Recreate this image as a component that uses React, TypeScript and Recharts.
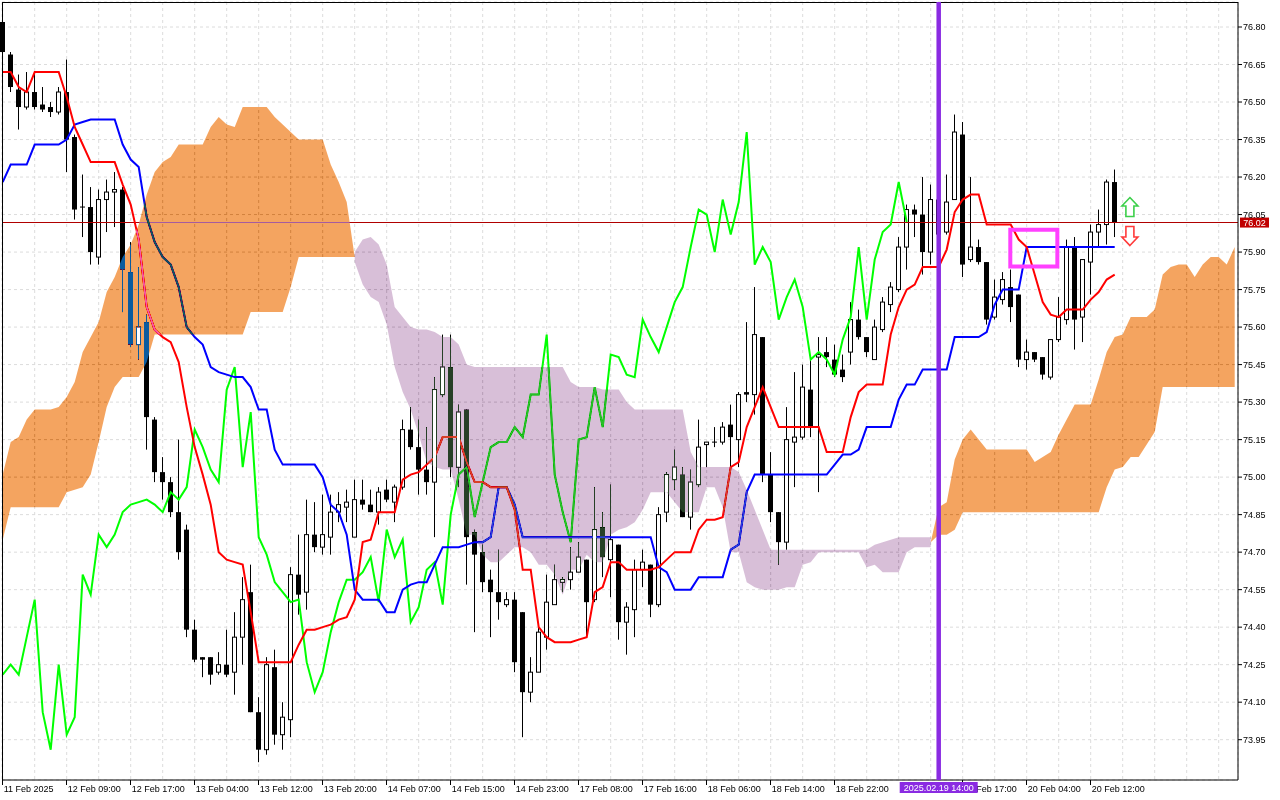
import React from 'react';
import {
  ComposedChart,
  Bar,
  Line,
  Area,
  XAxis,
  YAxis,
  CartesianGrid,
  ReferenceLine,
  ReferenceArea,
  ReferenceDot,
} from 'recharts';

// ---------- data (hourly bars, index 0..139) ----------
const barOpen = [
  76.82, 76.69, 76.55, 76.48, 76.54, 76.49, 76.48, 76.46, 76.54, 76.36,
  76.08, 76.08, 75.88, 76.11, 76.14, 76.15, 75.82, 75.53, 75.62, 75.23,
  75.02, 74.98, 74.86, 74.79, 74.39, 74.28, 74.28, 74.22, 74.25, 74.22,
  74.36, 74.54, 74.06, 73.91, 74.24, 73.97, 74.03, 74.61, 74.54, 74.77,
  74.72, 74.76, 74.86, 74.88, 74.76, 74.91, 74.89, 74.86, 74.95, 74.90,
  74.96, 75.19, 75.12, 75.03, 74.98, 75.33, 75.44, 75.04, 75.27, 74.78,
  74.70, 74.59, 74.54, 74.49, 74.51, 74.46, 74.14, 74.22, 74.36, 74.49,
  74.58, 74.59, 74.62, 74.67, 74.51, 74.80, 74.67, 74.73, 74.42, 74.47,
  74.63, 74.65, 74.49, 74.86, 74.99, 75.01, 74.84, 74.97, 75.13, 75.14,
  75.14, 75.21, 75.15, 75.34, 75.33, 75.56, 75.01, 74.86, 74.74, 75.14,
  75.16, 75.35, 75.48, 75.50, 75.47, 75.43, 75.50, 75.63, 75.56, 75.47,
  75.59, 75.69, 75.75, 75.92, 76.07, 76.05, 75.90, 76.11, 75.98, 76.11,
  76.37, 75.87, 75.92, 75.86, 75.64, 75.71, 75.76, 75.73, 75.47, 75.50,
  75.48, 75.40, 75.55, 75.63, 75.92, 75.64, 75.86, 75.98, 76.01, 76.18,
];
const barHigh = [
  76.83, 76.70, 76.61, 76.62, 76.62, 76.56, 76.50, 76.56, 76.67, 76.37,
  76.21, 76.16, 76.15, 76.19, 76.22, 76.16, 75.94, 75.84, 75.65, 75.24,
  75.08, 75.00, 75.15, 74.81, 74.43, 74.28, 74.28, 74.30, 74.39, 74.46,
  74.60, 74.65, 74.12, 74.28, 74.31, 74.10, 74.64, 74.77, 74.91, 74.90,
  74.93, 74.93, 74.94, 74.95, 74.99, 74.99, 74.95, 74.96, 74.99, 74.97,
  75.23, 75.28, 75.23, 75.20, 75.40, 75.57, 75.57, 75.29, 75.27, 74.79,
  74.73, 74.63, 74.71, 74.54, 74.54, 74.46, 74.28, 74.40, 74.61, 74.65,
  74.60, 74.72, 74.74, 74.67, 74.96, 74.86, 74.97, 74.73, 74.50, 74.67,
  74.71, 74.65, 74.88, 75.02, 75.11, 75.04, 75.03, 75.23, 75.14, 75.20,
  75.22, 75.29, 75.34, 75.62, 75.76, 75.56, 75.10, 74.86, 75.28, 75.42,
  75.45, 75.47, 75.56, 75.56, 75.53, 75.49, 75.70, 75.67, 75.56, 75.63,
  75.72, 75.78, 75.96, 76.09, 76.09, 76.20, 76.17, 76.18, 76.21, 76.45,
  76.42, 76.20, 75.95, 75.86, 75.79, 75.82, 75.83, 75.73, 75.55, 75.50,
  75.48, 75.55, 75.72, 75.95, 75.96, 75.87, 76.01, 76.07, 76.19, 76.23,
];
const barLow = [
  76.69, 76.54, 76.39, 76.47, 76.47, 76.46, 76.44, 76.45, 76.22, 76.03,
  75.96, 75.85, 75.85, 75.98, 76.00, 75.66, 75.52, 75.47, 75.11, 74.98,
  74.91, 74.84, 74.67, 74.36, 74.26, 74.20, 74.17, 74.21, 74.20, 74.13,
  74.25, 74.06, 73.86, 73.89, 73.93, 73.91, 73.96, 74.45, 74.47, 74.70,
  74.69, 74.69, 74.82, 74.82, 74.76, 74.87, 74.86, 74.81, 74.90, 74.82,
  74.95, 75.11, 74.93, 74.93, 74.76, 75.32, 75.00, 74.96, 74.57, 74.38,
  74.54, 74.36, 74.43, 74.48, 74.22, 73.96, 74.10, 74.22, 74.31, 74.49,
  74.54, 74.55, 74.62, 74.36, 74.50, 74.60, 74.52, 74.35, 74.29, 74.36,
  74.56, 74.44, 74.48, 74.82, 74.95, 74.84, 74.79, 74.96, 75.04, 75.12,
  75.13, 75.04, 75.04, 75.30, 75.25, 74.98, 74.82, 74.65, 74.71, 74.96,
  75.15, 75.16, 74.94, 75.44, 75.40, 75.38, 75.45, 75.55, 75.48, 75.47,
  75.58, 75.66, 75.74, 75.83, 75.96, 75.81, 75.85, 75.92, 75.97, 76.11,
  75.80, 75.86, 75.85, 75.61, 75.63, 75.69, 75.62, 75.44, 75.43, 75.46,
  75.39, 75.39, 75.54, 75.61, 75.51, 75.54, 75.73, 75.92, 75.93, 75.96,
];
const barClose = [
  76.70, 76.56, 76.48, 76.54, 76.48, 76.47, 76.46, 76.54, 76.35, 76.07,
  76.08, 75.90, 76.11, 76.14, 76.15, 75.83, 75.53, 75.60, 75.24, 75.02,
  74.98, 74.86, 74.70, 74.39, 74.27, 74.27, 74.21, 74.25, 74.21, 74.36,
  74.51, 74.06, 73.91, 74.25, 73.97, 74.04, 74.61, 74.53, 74.77, 74.72,
  74.77, 74.86, 74.89, 74.90, 74.91, 74.89, 74.86, 74.94, 74.91, 74.96,
  75.19, 75.12, 75.03, 74.98, 75.35, 75.44, 75.04, 75.26, 74.76, 74.69,
  74.58, 74.54, 74.50, 74.51, 74.26, 74.14, 74.22, 74.38, 74.50, 74.59,
  74.59, 74.62, 74.68, 74.50, 74.79, 74.68, 74.75, 74.42, 74.48, 74.63,
  74.66, 74.49, 74.85, 75.01, 75.04, 74.84, 74.98, 75.12, 75.14, 75.14,
  75.20, 75.16, 75.33, 75.33, 75.57, 75.01, 74.86, 74.74, 75.15, 75.16,
  75.36, 75.20, 75.49, 75.48, 75.41, 75.40, 75.63, 75.56, 75.50, 75.60,
  75.70, 75.76, 75.92, 76.07, 76.05, 75.90, 76.11, 75.97, 76.10, 76.38,
  75.85, 75.92, 75.86, 75.63, 75.72, 75.79, 75.68, 75.47, 75.50, 75.47,
  75.41, 75.55, 75.64, 75.92, 75.63, 75.87, 75.98, 76.01, 76.18, 76.02,
];

// Tenkan-sen (red)
const tenkan = [
  76.62, 76.62, 76.56, 76.54, 76.62, 76.62, 76.62, 76.62, 76.52, 76.40,
  76.33, 76.26, 76.26, 76.26, 76.26, 76.17, 76.09, 75.95, 75.68, 75.59,
  75.56, 75.54, 75.46, 75.28, 75.12, 75.01, 74.89, 74.70, 74.67, 74.66,
  74.65, 74.46, 74.26, 74.26, 74.26, 74.26, 74.26, 74.33, 74.39, 74.39,
  74.40, 74.41, 74.43, 74.44, 74.51, 74.74, 74.75, 74.86, 74.86, 74.86,
  74.99, 75.01, 75.02, 75.05, 75.08, 75.16, 75.16, 75.16, 75.06, 74.98,
  74.98, 74.96, 74.96, 74.96, 74.87, 74.63, 74.63, 74.40, 74.36, 74.34,
  74.34, 74.34, 74.35, 74.36, 74.54, 74.56, 74.66, 74.66, 74.63, 74.63,
  74.63, 74.63, 74.64, 74.67, 74.70, 74.70, 74.70, 74.79, 74.83, 74.83,
  74.84, 75.04, 75.06, 75.20, 75.28, 75.36, 75.28, 75.20, 75.20, 75.20,
  75.20, 75.20, 75.20, 75.10, 75.10, 75.10, 75.24, 75.34, 75.37, 75.37,
  75.37, 75.57, 75.68, 75.75, 75.77, 75.84, 75.84, 75.84, 75.91, 76.06,
  76.11, 76.13, 76.13, 76.01, 76.01, 76.01, 76.01, 75.95, 75.92, 75.81,
  75.70, 75.65, 75.64, 75.67, 75.67, 75.67, 75.71, 75.74, 75.79, 75.81,
];

// Kijun-sen (blue)
const kijun = [
  76.18, 76.25, 76.25, 76.25, 76.33, 76.33, 76.33, 76.33, 76.35, 76.41,
  76.42, 76.43, 76.43, 76.43, 76.43, 76.33, 76.27, 76.24, 76.04, 75.94,
  75.88, 75.85, 75.76, 75.60, 75.56, 75.53, 75.44, 75.42, 75.41, 75.40,
  75.40, 75.36, 75.27, 75.27, 75.11, 75.05, 75.05, 75.05, 75.05, 75.05,
  75.00, 74.89, 74.86, 74.77, 74.55, 74.51, 74.51, 74.51, 74.46, 74.46,
  74.55, 74.57, 74.58, 74.58, 74.65, 74.72, 74.72, 74.72, 74.73, 74.74,
  74.74, 74.76, 74.96, 74.96, 74.89, 74.76, 74.76, 74.76, 74.76, 74.76,
  74.76, 74.76, 74.76, 74.76, 74.76, 74.76, 74.76, 74.76, 74.76, 74.76,
  74.76, 74.76, 74.64, 74.62, 74.55, 74.55, 74.55, 74.60, 74.60, 74.60,
  74.60, 74.71, 74.73, 74.94, 75.01, 75.01, 75.01, 75.01, 75.01, 75.01,
  75.01, 75.01, 75.01, 75.01, 75.05, 75.09, 75.09, 75.11, 75.20, 75.20,
  75.20, 75.20, 75.31, 75.37, 75.37, 75.43, 75.43, 75.43, 75.43, 75.56,
  75.56, 75.56, 75.56, 75.58, 75.69, 75.75, 75.75, 75.75, 75.92, 75.92,
  75.92, 75.92, 75.92, 75.92, 75.92, 75.92, 75.92, 75.92, 75.92, 75.92,
];

// Senkou span A / B (cloud edges, plotted 26 bars ahead, index 0..154)
const senkouA = [
  75.01, 75.14, 75.16, 75.23, 75.27, 75.27, 75.27, 75.28, 75.32, 75.38,
  75.50, 75.56, 75.62, 75.74, 75.80, 75.88, 75.93, 76.01, 76.13, 76.22,
  76.26, 76.28, 76.33, 76.33, 76.33, 76.33, 76.40, 76.44, 76.41, 76.40,
  76.48, 76.48, 76.48, 76.48, 76.44, 76.41, 76.38, 76.35, 76.35, 76.35,
  76.35, 76.25, 76.18, 76.10, 75.86, 75.77, 75.72, 75.70, 75.61, 75.44,
  75.34, 75.27, 75.17, 75.06, 75.04, 75.03, 75.03, 74.91, 74.77, 74.77,
  74.69, 74.66, 74.66, 74.69, 74.72, 74.72, 74.70, 74.65, 74.65, 74.61,
  74.53, 74.63, 74.63, 74.69, 74.66, 74.66, 74.77, 74.79, 74.80, 74.82,
  74.87, 74.94, 74.94, 74.94, 74.90, 74.86, 74.86, 74.86, 74.96, 74.96,
  74.88, 74.70, 74.70, 74.58, 74.56, 74.55, 74.55, 74.55, 74.56, 74.56,
  74.65, 74.66, 74.70, 74.70, 74.70, 74.70, 74.70, 74.70, 74.64, 74.65,
  74.62, 74.62, 74.62, 74.70, 74.72, 74.72, 74.72, 74.88, 74.90, 75.07,
  75.15, 75.19, 75.15, 75.11, 75.11, 75.11, 75.11, 75.11, 75.11, 75.06,
  75.08, 75.10, 75.17, 75.23, 75.29, 75.29, 75.29, 75.39, 75.50, 75.56,
  75.57, 75.64, 75.64, 75.64, 75.67, 75.81, 75.84, 75.85, 75.85, 75.80,
  75.85, 75.88, 75.88, 75.85, 75.92,
];
const senkouB = [
  74.75, 74.88, 74.88, 74.88, 74.88, 74.88, 74.88, 74.88, 74.94, 74.95,
  74.96, 75.01, 75.14, 75.28, 75.36, 75.40, 75.40, 75.40, 75.46, 75.57,
  75.57, 75.57, 75.57, 75.57, 75.57, 75.57, 75.57, 75.57, 75.57, 75.57,
  75.57, 75.66, 75.66, 75.66, 75.66, 75.66, 75.76, 75.88, 75.88, 75.88,
  75.88, 75.88, 75.88, 75.88, 75.90, 75.95, 75.96, 75.93, 75.85, 75.68,
  75.64, 75.60, 75.59, 75.59, 75.58, 75.56, 75.56, 75.53, 75.45, 75.44,
  75.44, 75.44, 75.44, 75.44, 75.44, 75.44, 75.44, 75.44, 75.44, 75.44,
  75.44, 75.38, 75.36, 75.36, 75.36, 75.35, 75.35, 75.35, 75.30, 75.27,
  75.27, 75.27, 75.27, 75.27, 75.27, 75.27, 75.10, 75.04, 75.04, 75.04,
  75.04, 75.04, 75.02, 74.95, 74.87, 74.79, 74.71, 74.71, 74.71, 74.71,
  74.71, 74.71, 74.71, 74.71, 74.71, 74.71, 74.71, 74.71, 74.71, 74.73,
  74.74, 74.75, 74.76, 74.76, 74.76, 74.76, 74.76, 74.77, 74.77, 74.79,
  74.86, 74.86, 74.86, 74.86, 74.86, 74.86, 74.86, 74.86, 74.86, 74.86,
  74.86, 74.86, 74.86, 74.86, 74.86, 74.86, 74.86, 74.86, 74.96, 75.03,
  75.04, 75.08, 75.08, 75.13, 75.18, 75.36, 75.36, 75.36, 75.36, 75.36,
  75.36, 75.36, 75.36, 75.36, 75.36,
];

// time axis labels (bar index -> label); the 19 Feb 09:00 slot is covered by the marker tag
const xLabelBars = [0, 8, 16, 24, 32, 40, 48, 56, 64, 72, 80, 88, 96, 104, 120, 128, 136];
const xLabels = [
  '11 Feb 2025', '12 Feb 09:00', '12 Feb 17:00', '13 Feb 04:00', '13 Feb 12:00',
  '13 Feb 20:00', '14 Feb 07:00', '14 Feb 15:00', '14 Feb 23:00', '17 Feb 08:00',
  '17 Feb 16:00', '18 Feb 06:00', '18 Feb 14:00', '18 Feb 22:00',
  '19 Feb 17:00', '20 Feb 04:00', '20 Feb 12:00',
];
const gridBars = [
  0, 4, 8, 12, 16, 20, 24, 28, 32, 36, 40, 44, 48, 52, 56, 60, 64, 68, 72, 76,
  80, 84, 88, 92, 96, 100, 104, 108, 112, 116, 120, 124, 128, 132, 136, 140, 144, 148, 152,
];
const yTicks = [
  73.95, 74.1, 74.25, 74.4, 74.55, 74.7, 74.85, 75.0, 75.15, 75.3,
  75.45, 75.6, 75.75, 75.9, 76.05, 76.2, 76.35, 76.5, 76.65, 76.8,
];

const CHIKOU_SHIFT = 26;
const markerBar = 117;
const markerLabel = '2025.02.19 14:00';

// ---------- layout constants ----------
const X_MIN = -0.0875;
const X_MAX = 154.4125;
const Y_MIN = 73.7888;
const Y_MAX = 76.9;
const FONT = '"Liberation Sans", Arial, sans-serif';
const ORANGE_INV = '#0b5b9f'; // sandybrown drawn with difference blending
const THISTLE_INV = '#274027'; // thistle drawn with difference blending

type Row = { [k: string]: any };

const rows: Row[] = senkouA.map((a, i) => {
  const b = senkouB[i];
  const has = i < barOpen.length;
  const o = has ? barOpen[i] : null;
  const h = has ? barHigh[i] : null;
  const l = has ? barLow[i] : null;
  const c = has ? barClose[i] : null;
  let ov: number[] | null = null;
  let ovTopBody = false;
  let ovBotBody = false;
  if (has && (c as number) > (o as number) + 0.004) {
    const lo = Math.max(o as number, Math.min(a, b));
    const hi = Math.min(c as number, Math.max(a, b));
    if (hi > lo) {
      ov = [lo, hi];
      ovTopBody = hi === c;
      ovBotBody = lo === o;
    }
  }
  return {
    i,
    o,
    h,
    l,
    c,
    candle: has ? [l, h] : null,
    ov,
    ovTopBody,
    ovBotBody,
    tenkan: has ? tenkan[i] : null,
    kijun: has ? kijun[i] : null,
    chikou: i + CHIKOU_SHIFT < barClose.length ? barClose[i + CHIKOU_SHIFT] : null,
    up: a >= b ? [b, a] : null,
    down: a < b ? [a, b] : null,
  };
});
// close the bullish cloud at the crossing bars
rows.forEach((r, i) => {
  if (r.up) return;
  const prevUp = i > 0 && senkouA[i - 1] >= senkouB[i - 1];
  const nextUp = i < rows.length - 1 && senkouA[i + 1] >= senkouB[i + 1];
  if (prevUp || nextUp) {
    const m = (senkouA[i] + senkouB[i]) / 2;
    r.up = [m, m];
  }
});

const Candle = (props: any) => {
  const { x, y, width, height, payload } = props;
  if (!payload || payload.o == null || height == null) return null;
  const { o, h, l, c } = payload;
  const cx = Math.floor(x + width / 2);
  const py = (p: number) => y + ((h - p) / (h - l)) * height;
  const wick = (
    <line x1={cx + 0.5} x2={cx + 0.5} y1={py(h)} y2={py(l)} stroke="#000" strokeWidth={1} />
  );
  if (Math.abs(o - c) < 0.004) {
    return (
      <g>
        {wick}
        <line x1={cx - 2} x2={cx + 3} y1={py(c)} y2={py(c)} stroke="#000" strokeWidth={1} />
      </g>
    );
  }
  if (c > o) {
    const top = py(c);
    const bot = py(o);
    return (
      <g>
        {wick}
        <rect x={cx - 1.5} y={top} width={4} height={Math.max(bot - top, 0.5)} fill="#fff" stroke="#000" strokeWidth={1} />
      </g>
    );
  }
  const top = py(o);
  const bot = py(c);
  return (
    <g>
      {wick}
      <rect x={cx - 2} y={top} width={5} height={Math.max(bot - top, 1)} fill="#000" />
    </g>
  );
};

const WhiteInCloud = (props: any) => {
  const { x, y, width, height, payload } = props;
  if (!payload || !payload.ov || height == null) return null;
  const cx = Math.floor(x + width / 2);
  const top = y + (payload.ovTopBody ? 0.5 : 0);
  const bot = y + height - (payload.ovBotBody ? 0.5 : 0);
  if (bot <= top) return null;
  return <rect x={cx - 1} y={top} width={3} height={bot - top} fill="#fff" />;
};

const XTick = (props: any) => {
  const { x, y, payload } = props;
  const k = xLabelBars.indexOf(payload.value);
  if (k < 0) return null;
  const tx = Math.floor(x) + 0.5;
  return (
    <g>
      <line x1={tx} x2={tx} y1={y} y2={y + 5} stroke="#000" strokeWidth={1} />
      <text x={x + 1} y={y + 12} fontSize={9} fontFamily={FONT} fill="#000" textAnchor="start">
        {xLabels[k]}
      </text>
    </g>
  );
};

const PriceTag = (props: any) => {
  const vb = props.viewBox || {};
  const right = (vb.x || 0) + (vb.width || 0);
  const yy = vb.y || 0;
  return (
    <g>
      <rect x={right + 2} y={yy - 4.5} width={29} height={10} fill="#c00000" />
      <text x={right + 16.5} y={yy + 3.8} fontSize={9} fontFamily={FONT} fill="#fff" textAnchor="middle">
        {barClose[barClose.length - 1].toFixed(2)}
      </text>
    </g>
  );
};

const TimeTag = (props: any) => {
  const vb = props.viewBox || {};
  const cx = vb.x || 0;
  const bottom = (vb.y || 0) + (vb.height || 0);
  return (
    <g>
      <rect x={cx - 39} y={bottom + 2} width={78} height={11} fill="#8a2be2" />
      <text x={cx} y={bottom + 11} fontSize={9} fontFamily={FONT} fill="#fff" textAnchor="middle">
        {markerLabel}
      </text>
    </g>
  );
};

const ArrowUp = (props: any) => {
  const { cx, cy } = props;
  const d = `M${cx},${cy - 9.5} L${cx + 8},${cy - 1} L${cx + 4},${cy - 1} L${cx + 4},${cy + 9.5} L${cx - 4},${cy + 9.5} L${cx - 4},${cy - 1} L${cx - 8},${cy - 1} Z`;
  return <path d={d} fill="#fff" stroke="#3ccf4a" strokeWidth={1.6} />;
};

const ArrowDown = (props: any) => {
  const { cx, cy } = props;
  const d = `M${cx},${cy + 9.5} L${cx + 8},${cy + 1} L${cx + 4},${cy + 1} L${cx + 4},${cy - 9.5} L${cx - 4},${cy - 9.5} L${cx - 4},${cy + 1} L${cx - 8},${cy + 1} Z`;
  return <path d={d} fill="#fff" stroke="#ff3a3a" strokeWidth={1.6} />;
};

export default function App() {
  return (
    <div
      style={{
        position: 'absolute',
        left: 0,
        top: 0,
        width: 1280,
        height: 800,
        background: '#fff',
        overflow: 'hidden',
      }}
    >
      <style>{`.recharts-area-area { mix-blend-mode: difference; }`}</style>
      <ComposedChart
        width={1280}
        height={800}
        data={rows}
        margin={{ top: 2, right: 0, bottom: 0, left: 2 }}
      >
        <CartesianGrid
          fill="#ffffff"
          fillOpacity={1}
          stroke="#dcdcdc"
          strokeDasharray="3 3"
        />
        <XAxis
          dataKey="i"
          type="number"
          domain={[X_MIN, X_MAX]}
          ticks={gridBars}
          interval={0}
          tick={<XTick />}
          tickLine={false}
          tickSize={0}
          tickMargin={0}
          height={20}
          axisLine={{ stroke: '#000' }}
        />
        <XAxis xAxisId="ov" dataKey="i" type="number" domain={[X_MIN, X_MAX]} hide />
        <YAxis
          orientation="right"
          type="number"
          domain={[Y_MIN, Y_MAX]}
          ticks={yTicks}
          interval={0}
          width={42}
          tickSize={4}
          tickMargin={1}
          tickFormatter={(v: number) => v.toFixed(2)}
          tick={{ fontSize: 9, fontFamily: FONT, fill: '#000' }}
          tickLine={{ stroke: '#000' }}
          axisLine={{ stroke: '#000' }}
        />

        <Bar
          dataKey="candle"
          barSize={5}
          shape={<Candle />}
          isAnimationActive={false}
          zIndex={100}
        />

        <ReferenceLine
          y={barClose[barClose.length - 1]}
          stroke="#b00000"
          strokeWidth={1}
          shapeRendering="crispEdges"
          label={<PriceTag />}
          zIndex={150}
        />
        <Line
          dataKey="chikou"
          type="linear"
          stroke="#00ff00"
          strokeWidth={2}
          dot={false}
          activeDot={false}
          isAnimationActive={false}
          zIndex={150}
        />
        <Line
          dataKey="kijun"
          type="linear"
          stroke="#0000ff"
          strokeWidth={2}
          dot={false}
          activeDot={false}
          isAnimationActive={false}
          zIndex={150}
        />
        <Line
          dataKey="tenkan"
          type="linear"
          stroke="#ff0000"
          strokeWidth={2}
          dot={false}
          activeDot={false}
          isAnimationActive={false}
          zIndex={150}
        />

        <Area
          dataKey="up"
          type="linear"
          fill={ORANGE_INV}
          fillOpacity={1}
          stroke="none"
          dot={false}
          activeDot={false}
          isAnimationActive={false}
          zIndex={250}
        />
        <Area
          dataKey="down"
          type="linear"
          fill={THISTLE_INV}
          fillOpacity={1}
          stroke="none"
          dot={false}
          activeDot={false}
          isAnimationActive={false}
          zIndex={250}
        />

        <Bar
          xAxisId="ov"
          dataKey="ov"
          barSize={5}
          shape={<WhiteInCloud />}
          isAnimationActive={false}
          zIndex={300}
        />

        <ReferenceLine x={X_MIN} stroke="#000" strokeWidth={1} shapeRendering="crispEdges" zIndex={600} />
        <ReferenceLine y={Y_MAX} stroke="#000" strokeWidth={1} shapeRendering="crispEdges" zIndex={600} />
        <ReferenceArea
          x1={125.95}
          x2={131.83}
          y1={75.842}
          y2={75.989}
          fill="none"
          stroke="#ff40ff"
          strokeWidth={4}
          zIndex={600}
        />
        <ReferenceDot x={140.9} y={76.08} r={1} shape={<ArrowUp />} zIndex={600} />
        <ReferenceDot x={140.9} y={75.964} r={1} shape={<ArrowDown />} zIndex={600} />
        <ReferenceLine
          x={markerBar}
          stroke="#8a2be2"
          strokeWidth={4.5}
          label={<TimeTag />}
          zIndex={2500}
        />
      </ComposedChart>
    </div>
  );
}
